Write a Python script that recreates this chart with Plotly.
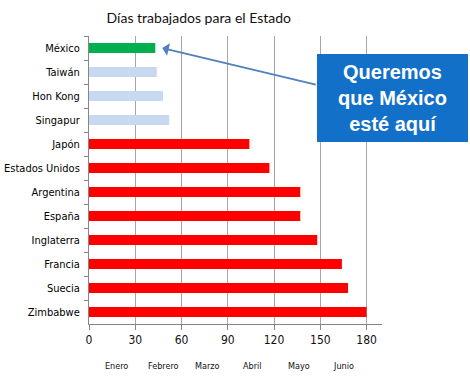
import plotly.graph_objects as go

countries = ["México", "Taiwán", "Hon Kong", "Singapur", "Japón", "Estados Unidos",
             "Argentina", "España", "Inglaterra", "Francia", "Suecia", "Zimbabwe"]
days = [43, 44, 48, 52, 104, 117, 137, 137, 148, 164, 168, 180]
bar_colors = ["#00B050", "#C6D9F1", "#C6D9F1", "#C6D9F1"] + ["#FF0000"] * 8
x_ticks = [0, 30, 60, 90, 120, 150, 180]
months = ["Enero", "Febrero", "Marzo", "Abril", "Mayo", "Junio"]
month_pos = [18, 48, 77, 106, 136, 165]

fig = go.Figure(go.Bar(
    x=days, y=countries, orientation="h",
    marker=dict(color=bar_colors, line=dict(width=0)),
    width=0.42,
))

label_font = "DejaVu Sans Condensed, Liberation Sans Narrow, sans-serif"

fig.update_layout(
    width=470, height=381,
    margin=dict(l=89, r=88, t=36, b=57, autoexpand=False),
    paper_bgcolor="white", plot_bgcolor="white",
    showlegend=False,
    title=dict(text="Días trabajados para el Estado", x=0.423, xanchor="center",
               xref="container", y=0.952, yanchor="middle", automargin=False,
               font=dict(family="Lato, Noto Sans, sans-serif", size=14, color="#111111")),
    xaxis=dict(range=[0, 190], tickvals=x_ticks, showgrid=True, gridcolor="#A6A6A6",
               gridwidth=1, zeroline=False, showline=True, linecolor="#868686",
               ticks="outside", ticklen=5, tickcolor="#868686", automargin=False,
               tickfont=dict(family=label_font, size=12, color="#111111")),
    yaxis=dict(range=[len(countries) - 0.5, -0.5], autorange=False,
               showgrid=False, showline=True, linecolor="#868686",
               ticks="outside", tickson="boundaries", ticklen=4, tickcolor="#868686",
               automargin=False,
               tickfont=dict(family=label_font, size=11, color="#000000"),
               ticklabelstandoff=6),
    bargap=0.58,
)

for m, p in zip(months, month_pos):
    fig.add_annotation(text=m, x=p, xref="x", y=-0.145, yref="paper",
                       showarrow=False, xanchor="center", yanchor="middle",
                       font=dict(family=label_font, size=9, color="#111111"))

fig.add_annotation(text="", x=47.5, xref="x", y="México", yref="y",
                   ax=155, ay=37, axref="pixel", ayref="pixel",
                   showarrow=True, arrowhead=1, arrowsize=1.2, arrowwidth=1.8,
                   arrowcolor="#4F81BD", standoff=0)

fig.add_annotation(text="<b>Queremos<br>que México<br>esté aquí</b>",
                   x=1.036, xref="paper", y=0.785, yref="paper",
                   xanchor="center", yanchor="middle", showarrow=False,
                   width=151, height=88, bgcolor="#1370C8", borderpad=0,
                   borderwidth=0, align="center",
                   font=dict(family="Liberation Sans, Arial, sans-serif", size=20,
                             color="white"))

fig.write_html("out.html", config={"displayModeBar": False},
               post_script="document.body.style.margin='0';")
